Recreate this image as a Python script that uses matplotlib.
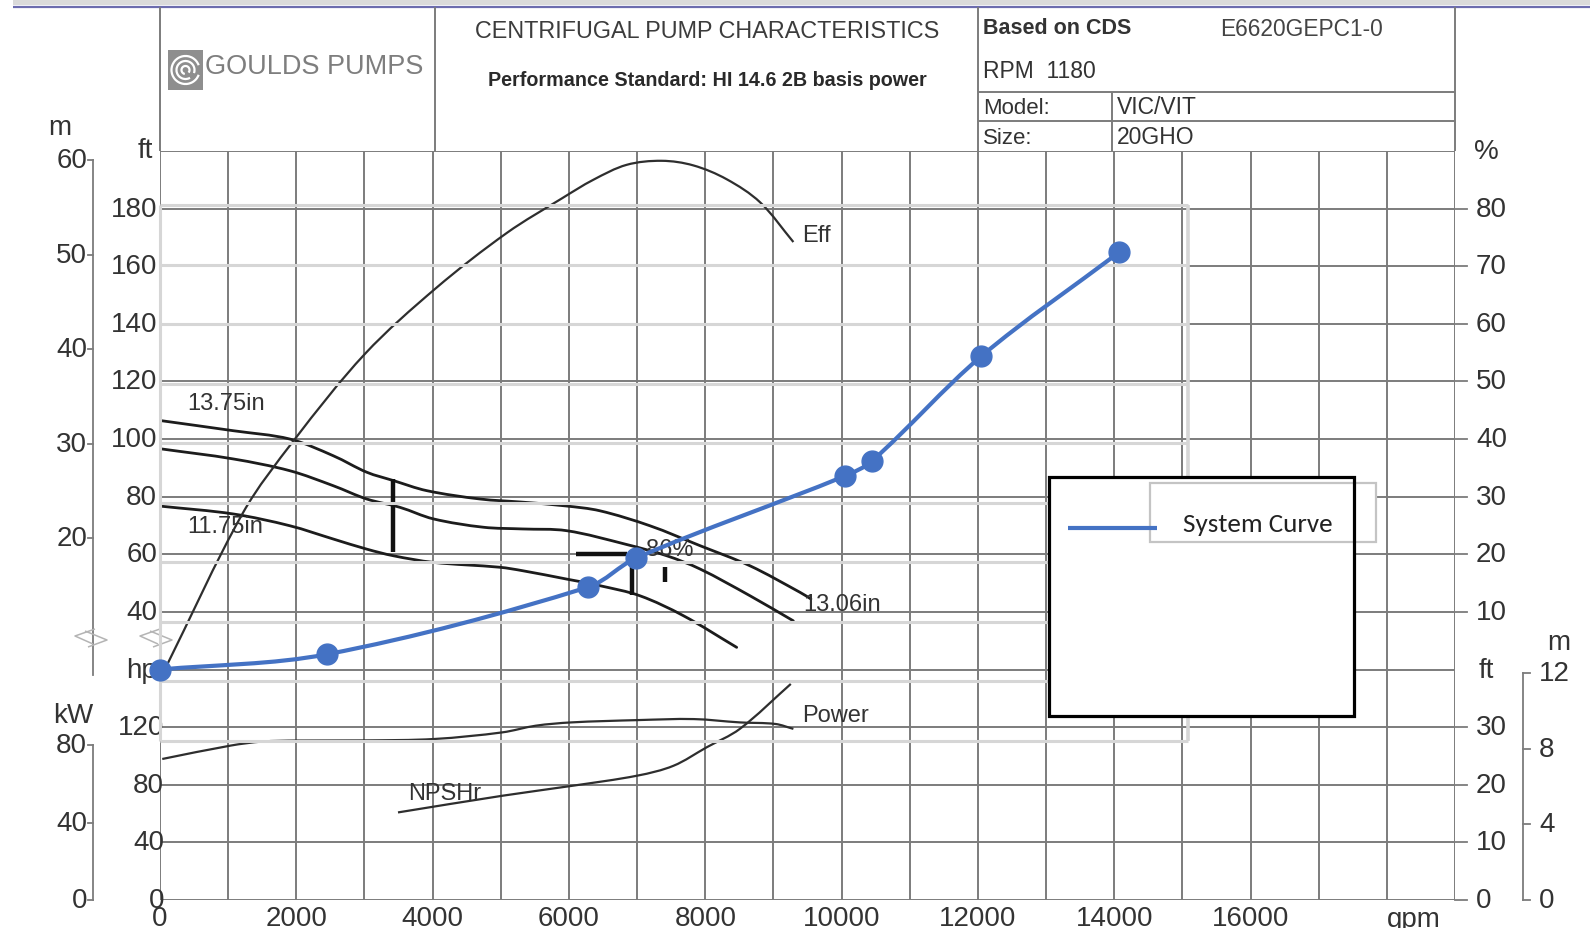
import numpy as np
import matplotlib
matplotlib.use("Agg")
import matplotlib.pyplot as plt
import matplotlib.transforms as mtransforms
from matplotlib.path import Path
from matplotlib.patches import PathPatch, Rectangle, Arc
from matplotlib import font_manager

# ---------------------------------------------------------------- data
flow_ticks = [0, 2000, 4000, 6000, 8000, 10000, 12000, 14000, 16000]
head_ft_ticks = [180, 160, 140, 120, 100, 80, 60, 40]
head_m_ticks = [60, 50, 40, 30, 20]
eff_ticks = [80, 70, 60, 50, 40, 30, 20, 10]
power_hp_ticks = [120, 80, 40, 0]
power_kw_ticks = [80, 40, 0]
npsh_ft_ticks = [30, 20, 10, 0]
npsh_m_ticks = [12, 8, 4, 0]

# impeller head curves (gpm, ft)
imp_1375_q = [15, 1076, 1907, 2543, 3033, 3423, 3913, 4695, 5321, 5950, 6455, 7189, 7923, 8657, 9390, 9550]
imp_1375_h = [106.4, 102.9, 100.0, 94.2, 88.5, 85.6, 82.1, 79.2, 78.1, 76.8, 75.1, 69.9, 63.0, 56.0, 46.8, 44.5]
imp_mid_q = [15, 1076, 1907, 2543, 3033, 3521, 4010, 4744, 5321, 5966, 6847, 7434, 7923, 8657, 9292]
imp_mid_h = [96.6, 93.1, 89.0, 83.8, 79.2, 76.3, 72.3, 69.4, 68.8, 68.2, 63.4, 59.5, 54.9, 45.6, 36.9]
imp_1175_q = [15, 1076, 1907, 2543, 3033, 3423, 4010, 4988, 5321, 5966, 6455, 7042, 7678, 8461]
imp_1175_h = [76.7, 74.0, 69.9, 65.3, 61.8, 59.5, 57.2, 55.5, 54.3, 51.4, 49.1, 45.6, 38.7, 27.7]

# efficiency (gpm, %)
eff_q = [70, 1222, 1966, 3008, 4049, 5091, 5900, 6357, 6847, 7361, 7825, 8314, 8804, 9293]
eff_pct = [0, 27.3, 39.8, 54.8, 66.2, 75.8, 81.8, 85.0, 87.6, 88.3, 87.5, 85.1, 81.1, 74.2]

# power (gpm, hp)
power_q = [33, 1036, 1500, 2000, 3000, 4030, 5026, 5512, 6036, 7010, 7833, 8507, 9031, 9293]
power_hp = [97.9, 107.2, 110.0, 110.7, 110.8, 111.8, 116.4, 121.0, 123.3, 124.9, 125.6, 123.3, 122.2, 118.8]

# NPSH required (gpm, ft)
npsh_q = [3492, 5026, 6036, 7010, 7534, 8020, 8507, 9255]
npsh_ft = [15.2, 18.1, 19.8, 21.6, 23.3, 26.5, 29.7, 37.5]

# operating-range bars (gpm, ft low, ft high)
bar_q = [3423, 6920, 7410]
bar_lo = [60.7, 46.0, 50.3]
bar_hi = [86.1, 60.0, 55.5]
bep_tick_q = [6110, 6850]
bep_tick_h = 60.1

# system curve (gpm, ft)
sys_q = [0, 2450, 6280, 6985, 10050, 10446, 12052, 14070]
sys_h = [20.0, 25.3, 48.6, 58.7, 87.2, 92.4, 128.8, 164.8]

# ---------------------------------------------------------------- scales
FT_PER_M = 1 / 0.3048
HP_PER_KW = 1 / 0.7457


def y_head(ft):
    return np.asarray(ft, float)


def y_eff(pct):
    return 2 * np.asarray(pct, float) + 20


def y_power(hp):
    return np.asarray(hp, float) / 2 - 60


def y_npsh(ft):
    return 2 * np.asarray(ft, float) - 60


# pixel size of one data unit, used to shape smooth segments
SX, SY = 1295 / 19000, 749 / 260


def smooth_path(x, y):
    """Cubic Bezier through the points, tangents from neighbours."""
    pts = np.column_stack([np.asarray(x, float) * SX, np.asarray(y, float) * SY])
    n = len(pts)
    tang = np.zeros_like(pts)
    for i in range(n):
        a = pts[max(i - 1, 0)]
        b = pts[min(i + 1, n - 1)]
        d = b - a
        tang[i] = d / np.hypot(*d)
    verts = [pts[0]]
    codes = [Path.MOVETO]
    for i in range(n - 1):
        seg = np.hypot(*(pts[i + 1] - pts[i])) / 3
        verts += [pts[i] + tang[i] * seg, pts[i + 1] - tang[i + 1] * seg, pts[i + 1]]
        codes += [Path.CURVE4] * 3
    verts = np.array(verts) / [SX, SY]
    return Path(verts, codes)


def has_font(name):
    return any(f.name == name for f in font_manager.fontManager.ttflist)


BASE = "Liberation Sans" if has_font("Liberation Sans") else "DejaVu Sans"
NARROW = "Liberation Sans Narrow" if has_font("Liberation Sans Narrow") else BASE
LEGF = next((f for f in ["Carlito", "Lato", "Open Sans"] if has_font(f)), BASE)
plt.rcParams["font.family"] = [BASE, "DejaVu Sans"]

W, H = 1590, 929
GRID = "#7c7c7c"
LIGHT = "#d6d6d6"
INK = "#1c1c1c"
CURVE = "#2e2e2e"
TXT = "#333333"
BLUE = "#4472C4"

fig = plt.figure(figsize=(W / 100, H / 100), dpi=100)
PX = mtransforms.Affine2D().scale(1 / 100, -1 / 100).translate(0, H / 100) + fig.dpi_scale_trans

ax = fig.add_axes([160 / W, 1 - 901 / H, 1295 / W, 749 / H])
ax.set_xlim(0, 19000)
ax.set_ylim(-60, 200)
ax.axis("off")

XPX = mtransforms.blended_transform_factory(PX, ax.transData)
YPX = mtransforms.blended_transform_factory(ax.transData, PX)


def pline(xs, ys, **kw):
    kw.setdefault("color", GRID)
    kw.setdefault("lw", 1.4)
    kw.setdefault("zorder", 1)
    ax.plot(xs, ys, transform=PX, clip_on=False, solid_capstyle="butt", **kw)


# ---------------------------------------------------------------- grid
ax.vlines(np.arange(0, 19001, 1000), -60, 200, color=GRID, lw=1.4, zorder=1)
ax.hlines(np.arange(-60, 201, 20), 0, 19000, color=GRID, lw=1.4, zorder=1)

# header band
ax.add_patch(Rectangle((13, 0), W - 13, 6, transform=PX, facecolor="#dadada", edgecolor="none", clip_on=False, zorder=1))
pline([13, W], [7.5, 7.5], color="#6c6cae", lw=1.6)

# title block
for x in (160, 435, 978, 1455):
    pline([x, x], [8, 152])
pline([1112, 1112], [93, 152])
pline([978, 1455], [93, 93])
pline([978, 1455], [122, 122])

# logo
ax.add_patch(Rectangle((168, 51), 35, 40, transform=PX, facecolor="#8e8e8e", edgecolor="none", clip_on=False, zorder=2))
for r, t1, t2 in [(14, 20, 340), (9, 60, 380), (4, 100, 400)]:
    ax.add_patch(Arc((185.5, 71), 2 * r, 2 * r, theta1=t1, theta2=t2, transform=PX, color="white", lw=1.6, clip_on=False, zorder=3))
ax.text(205, 67, "GOULDS PUMPS", transform=PX, family=[NARROW, BASE], fontsize=23 if NARROW != BASE else 19.5,
        color="#7e7e7e", ha="left", va="center", zorder=3)

ax.text(707, 31, "CENTRIFUGAL PUMP CHARACTERISTICS", transform=PX, fontsize=16.8, color="#3c3c3c", ha="center", va="center")
ax.text(707, 80, "Performance Standard: HI 14.6 2B basis power", transform=PX, fontsize=14.2, weight="bold", color="#2a2a2a", ha="center", va="center")
ax.text(983, 29, "Based on CDS", transform=PX, fontsize=15.5, weight="bold", color="#333", ha="left", va="center")
ax.text(1220, 29, "E6620GEPC1-0", transform=PX, fontsize=16.4, color="#444", ha="left", va="center")
ax.text(983, 71, "RPM  1180", transform=PX, fontsize=16.5, color="#333", ha="left", va="center")
ax.text(983, 108, "Model:", transform=PX, fontsize=16, color="#333", ha="left", va="center")
ax.text(1117, 108, "VIC/VIT", transform=PX, fontsize=16.5, color="#333", ha="left", va="center")
ax.text(983, 138, "Size:", transform=PX, fontsize=16, color="#333", ha="left", va="center")
ax.text(1117, 138, "20GHO", transform=PX, fontsize=16.5, color="#333", ha="left", va="center")

TICKF = 20
# ---------------------------------------------------------------- left scales
ax.text(60, 128, "m", transform=PX, fontsize=TICKF, color=TXT, ha="center", va="center")
ax.text(145, 151, "ft", transform=PX, fontsize=TICKF, color=TXT, ha="center", va="center")
m_top = y_head(60 * FT_PER_M)
ax.plot([93, 93], [m_top, 18], transform=XPX, color=GRID, lw=1.3, clip_on=False)
for m in head_m_ticks:
    yv = y_head(m * FT_PER_M)
    ax.plot([88, 93], [yv, yv], transform=XPX, color=GRID, lw=1.3, clip_on=False)
    ax.text(87, yv, str(m), transform=XPX, fontsize=TICKF, color=TXT, ha="right", va="center")
for f in head_ft_ticks:
    ax.text(157, y_head(f), str(f), transform=XPX, fontsize=TICKF, color=TXT, ha="right", va="center")
ax.text(157, 20, "hp", transform=XPX, fontsize=TICKF, color=TXT, ha="right", va="center")

# axis breaks
for x0 in (73, 138):
    pline([x0 + 22, x0 + 2, x0 + 20], [630, 637, 645], color="#b4b4b4", lw=1.1, zorder=2)
    pline([x0 + 12, x0 + 34, x0 + 15], [632, 641, 648], color="#b4b4b4", lw=1.1, zorder=2)

ax.text(73, 716, "kW", transform=PX, fontsize=TICKF, color=TXT, ha="center", va="center")
ax.plot([93, 93], [y_power(80 * HP_PER_KW), -60], transform=XPX, color=GRID, lw=1.3, clip_on=False)
for k in power_kw_ticks:
    yv = y_power(k * HP_PER_KW)
    ax.plot([88, 93], [yv, yv], transform=XPX, color=GRID, lw=1.3, clip_on=False)
    ax.text(87, yv, str(k), transform=XPX, fontsize=TICKF, color=TXT, ha="right", va="center")
for p in power_hp_ticks:
    ax.text(164, y_power(p), str(p), transform=XPX, fontsize=TICKF, color=TXT, ha="right", va="center", zorder=2)

# ---------------------------------------------------------------- right scales
ax.text(1486, 152, "%", transform=PX, fontsize=TICKF, color=TXT, ha="center", va="center")
for e in eff_ticks:
    yv = y_eff(e)
    ax.plot([1455, 1467], [yv, yv], transform=XPX, color=GRID, lw=1.3, clip_on=False)
    ax.text(1476, yv, str(e), transform=XPX, fontsize=TICKF, color=TXT, ha="left", va="center")
ax.text(1486, 671, "ft", transform=PX, fontsize=TICKF, color=TXT, ha="center", va="center")
for f in npsh_ft_ticks:
    yv = y_npsh(f)
    ax.plot([1455, 1467], [yv, yv], transform=XPX, color=GRID, lw=1.3, clip_on=False)
    ax.text(1476, yv, str(f), transform=XPX, fontsize=TICKF, color=TXT, ha="left", va="center")
ax.text(1559, 643, "m", transform=PX, fontsize=TICKF, color=TXT, ha="center", va="center")
ax.plot([1523, 1523], [y_npsh(12 * FT_PER_M), -60], transform=XPX, color=GRID, lw=1.3, clip_on=False)
for m in npsh_m_ticks:
    yv = y_npsh(m * FT_PER_M)
    ax.plot([1523, 1530], [yv, yv], transform=XPX, color=GRID, lw=1.3, clip_on=False)
    ax.text(1539, yv, str(m), transform=XPX, fontsize=TICKF, color=TXT, ha="left", va="center")

# flow axis
for q in flow_ticks:
    ax.text(q, 919, str(q), transform=YPX, fontsize=TICKF, color=TXT, ha="center", va="center")
ax.text(1414, 920, "gpm", transform=PX, fontsize=TICKF, color=TXT, ha="center", va="center")

# ---------------------------------------------------------------- pump curves
for q, h in [(imp_1375_q, imp_1375_h), (imp_mid_q, imp_mid_h), (imp_1175_q, imp_1175_h)]:
    ax.add_patch(PathPatch(smooth_path(q, y_head(h)), fill=False, edgecolor=INK, lw=2.0, zorder=2, capstyle="round"))
ax.add_patch(PathPatch(smooth_path(eff_q, y_eff(eff_pct)), fill=False, edgecolor=CURVE, lw=1.6, zorder=2))
ax.add_patch(PathPatch(smooth_path(power_q, y_power(power_hp)), fill=False, edgecolor=CURVE, lw=1.6, zorder=2))
ax.add_patch(PathPatch(smooth_path(npsh_q, y_npsh(npsh_ft)), fill=False, edgecolor=CURVE, lw=1.6, zorder=2))

ax.vlines(bar_q, y_head(bar_lo), y_head(bar_hi), color="#111", lw=3.2, zorder=2)
ax.hlines(y_head(bep_tick_h), bep_tick_q[0], bep_tick_q[1], color="#111", lw=3.2, zorder=2)

LABF = 17
ax.text(968, 112.5, "13.75in", fontsize=LABF, color=TXT, ha="center", va="center", zorder=2)
ax.text(954, 69.8, "11.75in", fontsize=LABF, color=TXT, ha="center", va="center", zorder=2)
ax.text(10006, 42.7, "13.06in", fontsize=LABF, color=TXT, ha="center", va="center", zorder=2)
ax.text(7483, 61.8, "86%", fontsize=LABF, color=TXT, ha="center", va="center", zorder=2)
ax.text(9625, 170.8, "Eff", fontsize=LABF, color=TXT, ha="center", va="center", zorder=2)
ax.text(9918, 4.2, "Power", fontsize=LABF, color=TXT, ha="center", va="center", zorder=2)
ax.text(4181, -22.9, "NPSHr", fontsize=LABF, color=TXT, ha="center", va="center", zorder=2)

# ---------------------------------------------------------------- system curve plot area
for k in range(10):
    yk = 206 + k * 59.5
    pline([160, 1188], [yk, yk], color=LIGHT, lw=2.2, zorder=3)
pline([160, 160], [206, 742], color=LIGHT, lw=2.2, zorder=3)
pline([1188, 1188], [206, 742], color=LIGHT, lw=2.6, zorder=3)

ax.add_patch(PathPatch(smooth_path(sys_q, y_head(sys_h)), fill=False, edgecolor=BLUE, lw=3.0, zorder=6,
                       capstyle="round", clip_on=False))
ax.plot(sys_q, y_head(sys_h), "o", color=BLUE, ms=15, zorder=7, clip_on=False)

# legend
ax.add_patch(Rectangle((1049, 478), 305, 239, transform=PX, facecolor="white", edgecolor="none", clip_on=False, zorder=10))
ax.add_patch(Rectangle((1150, 484), 226, 59, transform=PX, facecolor="white", edgecolor="#c4c4c4", lw=1.6, clip_on=False, zorder=11))
ax.add_patch(Rectangle((1049, 478), 305, 239, transform=PX, facecolor="none", edgecolor="black", lw=2.3, clip_on=False, zorder=12))
pline([1068, 1157], [529, 529], color=BLUE, lw=3.0, zorder=13)
ax.text(1183, 525, "System Curve", transform=PX, family=[LEGF, BASE], fontsize=19.5, color="#222", ha="left", va="center", zorder=13)

fig.savefig("out.png", dpi=100, facecolor="white")
